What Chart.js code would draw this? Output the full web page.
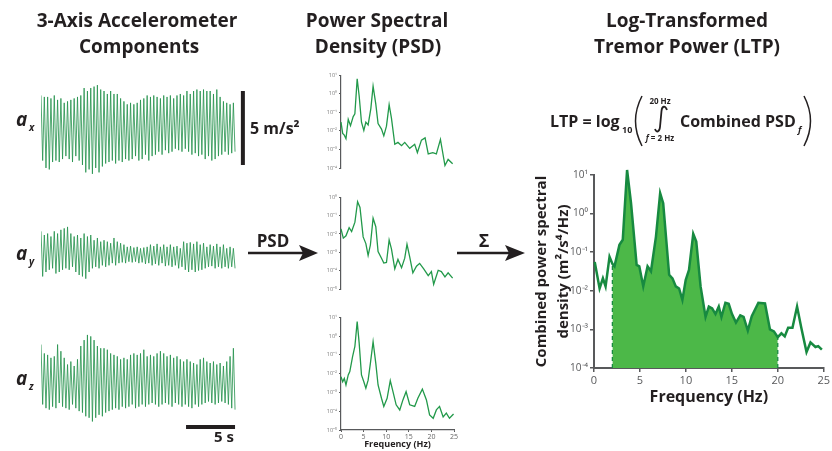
<!DOCTYPE html>
<html>
<head>
<meta charset="utf-8">
<script src="https://cdn.jsdelivr.net/npm/chart.js@4.4.0/dist/chart.umd.min.js"></script>
<style>
  body { margin: 0; width: 832px; height: 451px; overflow: hidden; background: #fff; font-family: "Open Sans", sans-serif; }
  canvas, svg { position: absolute; }
  svg { left: 0; top: 0; pointer-events: none; }
  text { font-family: "Open Sans", sans-serif; fill: #231f20; font-weight: bold; }
</style>
</head>
<body>
<canvas id="ax" width="210" height="100" style="left:41px;top:78px"></canvas>
<canvas id="ay" width="210" height="100" style="left:41px;top:205px"></canvas>
<canvas id="az" width="210" height="100" style="left:41px;top:333px"></canvas>
<canvas id="psdX" width="150" height="125" style="left:312px;top:70px"></canvas>
<canvas id="psdY" width="150" height="125" style="left:312px;top:192px"></canvas>
<canvas id="psdZ" width="150" height="138" style="left:312px;top:312px"></canvas>
<canvas id="combined" width="312" height="245" style="left:520px;top:165px"></canvas>

<svg width="832" height="451">
  <!-- titles -->
  <text x="137" y="27" font-size="19" text-anchor="middle">3-Axis Accelerometer</text>
  <text x="139" y="53" font-size="19" text-anchor="middle">Components</text>
  <text x="377" y="27" font-size="19" text-anchor="middle">Power Spectral</text>
  <text x="378" y="53" font-size="19" text-anchor="middle">Density (PSD)</text>
  <text x="687" y="27" font-size="19" text-anchor="middle">Log-Transformed</text>
  <text x="687" y="53" font-size="19" text-anchor="middle">Tremor Power (LTP)</text>

  <!-- axis names -->
  <text x="16" y="126" font-size="19" font-style="italic">a</text>
  <text x="29" y="131" font-size="10" font-style="italic">x</text>
  <text x="16" y="260" font-size="19" font-style="italic">a</text>
  <text x="29" y="265" font-size="10" font-style="italic">y</text>
  <text x="16" y="385" font-size="19" font-style="italic">a</text>
  <text x="29" y="390" font-size="10" font-style="italic">z</text>

  <!-- scale bar labels -->
  <text x="250" y="134" font-size="16">5 m/s²</text>
  <text x="224" y="442" font-size="15" text-anchor="middle">5 s</text>

  <!-- arrows -->
  <text x="273" y="247" font-size="17" text-anchor="middle">PSD</text>
  <line x1="248" y1="253" x2="304" y2="253" stroke="#231f20" stroke-width="2.5"/>
  <polygon points="318,253 299,245 303,253 299,261" fill="#231f20"/>
  <text x="484" y="247" font-size="18" text-anchor="middle">Σ</text>
  <line x1="457" y1="253" x2="510" y2="253" stroke="#231f20" stroke-width="2.5"/>
  <polygon points="525,253 505,245 509,253 505,261" fill="#231f20"/>

  <!-- formula -->
  <text x="550" y="127" font-size="16">LTP = log</text>
  <text x="622" y="133" font-size="9">10</text>
  <path d="M642,96 Q629,121 642,146" fill="none" stroke="#231f20" stroke-width="1.5"/>
  <text x="660" y="104" font-size="8" text-anchor="middle">20 Hz</text>
  <path d="M667,110 C665,105 662,106 661.5,111 L660,127 C659.5,132 656.5,133 655,129" fill="none" stroke="#231f20" stroke-width="1.8"/>
  <text x="660" y="141" font-size="8" text-anchor="middle"><tspan font-style="italic">f</tspan> = 2 Hz</text>
  <text x="680" y="127" font-size="16">Combined PSD</text>
  <text x="798" y="133" font-size="9" font-style="italic">f</text>
  <path d="M804,96 Q817,121 804,146" fill="none" stroke="#231f20" stroke-width="1.5"/>
</svg>

<script>
// accelerometer traces: peak and trough of each oscillation (m/s^2)
const axHi = [2.2, 2.1, 2.1, 2.0, 2.2, 1.9, 2.0, 1.7, 1.8, 1.9,
  2.0, 2.1, 2.2, 2.7, 2.5, 2.7, 2.8, 2.9, 2.6, 2.5,
  2.3, 2.5, 2.3, 2.3, 2.0, 1.8, 1.6, 1.7, 1.6, 1.7,
  1.9, 2.0, 2.2, 2.1, 2.2, 2.1, 2.0, 2.2, 2.1, 2.2,
  2.0, 2.2, 2.3, 2.2, 2.5, 2.3, 2.5, 2.6, 2.5, 2.6,
  2.5, 2.5, 2.3, 2.6, 2.1, 1.8, 1.7, 1.6, 1.7];
const axLo = [-2.2, -2.7, -2.8, -2.3, -2.2, -2.3, -2.1, -1.9, -2.1, -2.3,
  -1.9, -2.2, -2.5, -3.0, -2.8, -3.1, -2.7, -3.0, -2.6, -2.4,
  -2.3, -2.2, -2.4, -2.2, -2.3, -2.1, -2.2, -2.1, -1.9, -2.2,
  -2.1, -1.8, -2.2, -1.9, -1.8, -1.6, -1.8, -1.5, -1.7, -1.6,
  -1.4, -1.5, -1.6, -1.4, -1.6, -1.8, -1.7, -1.9, -1.8, -2.1,
  -1.9, -2.2, -2.1, -1.9, -1.8, -1.6, -1.8, -1.7, -1.6];
const ayHi = [1.6, 1.35, 1.45, 1.25, 1.6, 1.45, 1.7, 1.8, 1.9, 1.45,
  1.25, 1.35, 1.15, 1.45, 1.25, 1.35, 1.0, 1.15, 0.9, 1.0,
  0.9, 0.8, 1.15, 0.9, 0.8, 0.7, 0.55, 0.6, 0.5, 0.55,
  0.45, 0.5, 0.55, 0.7, 0.6, 0.75, 0.55, 0.7, 0.55, 0.7,
  0.55, 0.6, 0.45, 0.9, 0.8, 0.85, 0.75, 0.9, 0.7, 0.8,
  0.55, 0.7, 0.6, 0.75, 0.55, 0.7, 0.45, 0.55, 0.45];
const ayLo = [-1.45, -1.15, -1.0, -0.9, -1.25, -1.15, -1.0, -0.9, -1.0, -0.8,
  -1.15, -1.35, -1.45, -1.6, -1.15, -0.9, -0.8, -0.9, -0.7, -0.8,
  -0.7, -0.55, -0.7, -0.55, -0.5, -0.55, -0.45, -0.5, -0.45, -0.55,
  -0.5, -0.6, -0.55, -0.7, -0.6, -0.7, -0.55, -0.75, -0.7, -0.8,
  -0.7, -0.9, -0.8, -1.0, -1.15, -1.0, -1.15, -1.05, -1.0, -0.9,
  -0.8, -0.75, -0.9, -0.8, -0.9, -0.8, -0.9, -0.8, -0.9];
const azHi = [2.6, 2.0, 1.9, 1.7, 1.8, 2.6, 2.15, 1.7, 1.25, 1.45,
  1.15, 1.6, 2.5, 2.9, 3.25, 3.15, 2.9, 2.5, 2.35, 2.35,
  2.25, 2.0, 1.9, 1.8, 1.6, 1.7, 1.6, 1.9, 2.0, 1.9,
  2.0, 2.25, 1.8, 1.9, 1.8, 2.0, 2.15, 2.0, 1.8, 1.9,
  1.7, 1.8, 1.6, 1.45, 1.6, 1.45, 1.35, 1.25, 1.6, 1.7,
  1.45, 1.35, 1.45, 1.25, 1.35, 1.15, 1.45, 1.8, 2.35];
const azLo = [-1.45, -1.7, -1.8, -1.6, -1.7, -1.35, -1.6, -1.7, -1.8, -1.45,
  -1.7, -1.9, -2.0, -2.25, -2.35, -2.6, -2.35, -2.15, -2.25, -2.0,
  -1.9, -1.8, -1.7, -1.8, -1.6, -1.7, -1.6, -1.45, -1.7, -1.6,
  -1.45, -1.6, -1.45, -1.35, -1.45, -1.6, -1.45, -1.35, -1.45, -1.6,
  -1.35, -1.45, -1.6, -1.45, -1.6, -1.7, -1.45, -1.6, -1.45, -1.35,
  -1.25, -1.35, -1.45, -1.35, -1.25, -1.35, -1.45, -1.7, -1.8];
const traceSeconds = 19.8;
const ampBarT = 20.6;
const ampBar = [-2.5, 2.5];
const timeBar = [14.8, 19.8];
const timeBarY = -2.97;

// per-axis PSDs
const fX = [0, 0.37, 0.73, 1.1, 1.6, 2.1, 2.7, 3.07, 3.58, 4.02, 4.53, 5.05, 5.5, 6.0, 6.6, 7.1, 7.7, 8.2, 8.96, 9.47,
  10.06, 10.65, 11.16, 11.9, 12.6, 13.4, 14.1, 15.2, 16.3, 16.9, 17.8, 18.6, 19.3, 20.3, 21.1, 22.0, 23.0, 23.7, 24.7];
const psdX = [2.95e-2, 7.4e-3, 5.9e-3, 3.8e-3, 4.2e-2, 1.9e-2, 5.9e-2, 8.3e-2, 6.5, 0.76, 2.95e-2, 1.05e-2, 2.95e-2, 2.1e-2, 0.16, 2.6, 0.28, 2.5e-2, 1.26e-2, 5.4e-3,
  1.8e-2, 0.26, 4.9e-2, 1.9e-3, 2.4e-3, 1.6e-3, 2.4e-3, 1.15e-3, 1.9e-3, 6.8e-4, 3.2e-3, 4.2e-3, 5.8e-4, 6.8e-4, 5.8e-4, 3.5e-3, 1.35e-4, 2.9e-4, 1.7e-4];
const fY = [0, 0.51, 1.1, 1.8, 2.35, 3.08, 3.67, 4.2, 4.9, 5.5, 6.0, 6.5, 7.1, 7.7, 8.2, 8.96, 9.47, 10.06, 10.65, 11.16,
  11.9, 12.6, 13.4, 14.1, 14.6, 15.2, 15.9, 16.7, 17.4, 18.3, 19.3, 20.0, 20.5, 21.5, 22.2, 23.0, 23.7, 24.7];
const psdY = [1.9e-2, 5.9e-3, 7.9e-3, 2.2e-2, 1.35e-2, 4.4e-2, 0.58, 0.28, 6.9e-3, 3.0e-3, 6.8e-4, 2.5e-3, 7.2e-2, 2.5e-2, 1.1e-3, 4.8e-4, 2.6e-4, 2.8e-4, 4.7e-3, 1.55e-3,
  1.26e-4, 4.1e-4, 1.45e-4, 4.8e-4, 2.75e-3, 5.6e-4, 7.6e-5, 1.74e-4, 2.5e-4, 1.26e-4, 5.4e-5, 8.9e-5, 1.8e-5, 1.05e-4, 8.9e-5, 4.6e-5, 7.6e-5, 3.9e-5];
const fZ = [0, 0.37, 0.73, 1.1, 1.6, 1.95, 2.55, 3.07, 3.58, 4.02, 4.53, 5.05, 5.5, 6.0, 6.5, 7.1, 7.7, 8.2, 8.96, 9.47,
  10.2, 10.9, 11.5, 12.2, 13.0, 13.7, 14.4, 15.2, 16.3, 17.0, 18.0, 18.9, 19.6, 20.4, 21.1, 21.8, 22.6, 23.3, 24.0, 24.9];
const psdZ = [6.9e-3, 3.7e-3, 5.6e-3, 2.5e-3, 8.5e-3, 1.3e-2, 7.9e-2, 0.28, 5.9, 0.42, 8.5e-3, 3.7e-3, 1.66e-3, 4.5e-3, 3.5e-2, 0.5, 3.5e-2, 2.5e-3, 4.9e-4, 1.8e-4,
  4.9e-4, 4.3e-3, 1.1e-3, 2.2e-4, 1.17e-4, 4.0e-4, 1.1e-3, 2.2e-4, 1.8e-4, 4.9e-4, 1.5e-3, 4.0e-4, 6.3e-5, 4.2e-5, 1.17e-4, 1.8e-4, 5.0e-5, 7.9e-5, 4.2e-5, 7.1e-5];

// combined PSD
const fComb = [0.08, 0.61, 0.97, 1.26, 1.69, 2.0, 2.23, 2.77, 3.13, 3.6, 4.03, 4.64, 4.93, 5.36, 5.83, 6.2, 6.74, 7.2, 7.53, 8.18,
  8.54, 8.9, 9.26, 9.62, 9.98, 10.34, 10.8, 11.13, 11.6, 12.14, 12.5, 12.86, 13.22, 13.58, 13.87, 14.3, 14.66, 15.02, 15.45, 15.92,
  16.28, 16.74, 17.17, 17.89, 18.61, 19.15, 19.58, 20.0, 20.4, 20.76, 21.13, 21.6, 22.1, 22.56, 23.13, 23.56, 24.1, 24.4, 24.8];
const psdComb = [5.6e-2, 1.15e-2, 2.1e-2, 1.3e-2, 7.6e-2, 5.0e-2, 4.3e-2, 0.155, 0.21, 13.5, 1.86, 4.7e-2, 4.3e-2, 1.3e-2, 4.3e-2, 3.2e-2, 0.25, 3.4, 1.86, 2.6e-2,
  2.1e-2, 1.3e-2, 1.15e-2, 5.8e-3, 1.9e-2, 3.5e-2, 0.3, 0.19, 1.3e-2, 2.1e-3, 3.9e-3, 3.5e-3, 2.5e-3, 3.9e-3, 2.1e-3, 4.9e-3, 4.6e-3, 2.5e-3, 1.5e-3, 2.3e-3,
  2.1e-3, 9.3e-4, 2.2e-3, 4.9e-3, 4.7e-3, 1.0e-3, 8.9e-4, 6.3e-4, 7.9e-4, 6.6e-4, 1.1e-3, 1.1e-3, 3.9e-3, 1.1e-3, 2.6e-4, 4.6e-4, 3.5e-4, 3.7e-4, 3.0e-4];
const bandLow = 2;
const bandHigh = 20;

const freqTicks = [0, 5, 10, 15, 20, 25];
const combTicks = [1e-4, 1e-3, 1e-2, 1e-1, 1, 10];
const ticksX = [1e-4, 1e-3, 1e-2, 1e-1, 1, 10];
const ticksY = [1e-5, 1e-4, 1e-3, 1e-2, 1e-1, 1];
const ticksZ = [1e-5, 1e-4, 1e-3, 1e-2, 1e-1, 1, 10];

const traceColor = "rgba(35,145,75,0.8)";
const psdColor = "#22994a";
const combLine = "#178a40";
const combFill = "#4cb848";
const axisGrey = "#58595b";

Chart.defaults.font.family = "'Open Sans', sans-serif";

const sup = { "-": "⁻", "0": "⁰", "1": "¹", "2": "²", "3": "³", "4": "⁴", "5": "⁵" };
function pow10Label(v) {
  const e = Math.round(Math.log10(v));
  return "10" + String(e).split("").map((c) => sup[c]).join("");
}

function traceData(hi, lo) {
  const n = hi.length * 2;
  const pts = [];
  hi.forEach((h, i) => {
    pts.push({ x: (2 * i * traceSeconds) / (n - 1), y: h });
    pts.push({ x: ((2 * i + 1) * traceSeconds) / (n - 1), y: lo[i] });
  });
  return pts;
}

function barSet(points) {
  return { data: points, borderColor: "#231f20", borderWidth: 4, pointRadius: 0, borderCapStyle: "butt" };
}

function traceChart(id, hi, lo, extra) {
  return new Chart(document.getElementById(id), {
    type: "line",
    data: {
      datasets: [
        { data: traceData(hi, lo), borderColor: traceColor, borderWidth: 1, pointRadius: 0, tension: 0 },
      ].concat(extra || []),
    },
    options: {
      responsive: false,
      animation: false,
      events: [],
      layout: { padding: 0 },
      plugins: { legend: { display: false }, tooltip: { enabled: false } },
      scales: {
        x: { type: "linear", display: false, min: 0, max: 210 / 9.8 },
        y: { display: false, min: -3.38, max: 3.38 },
      },
    },
  });
}

traceChart("ax", axHi, axLo, [barSet(ampBar.map((v) => ({ x: ampBarT, y: v })))]);
traceChart("ay", ayHi, ayLo);
traceChart("az", azHi, azLo, [barSet(timeBar.map((t) => ({ x: t, y: timeBarY })))]);

function points(fs, vs) {
  return fs.map((f, i) => ({ x: f, y: vs[i] }));
}

function smallPsd(id, fs, vs, yTicks, pad, showX) {
  return new Chart(document.getElementById(id), {
    type: "line",
    data: {
      datasets: [{ data: points(fs, vs), borderColor: psdColor, borderWidth: 1.3, pointRadius: 0, tension: 0, clip: false }],
    },
    options: {
      responsive: false,
      animation: false,
      events: [],
      layout: { padding: pad },
      plugins: { legend: { display: false }, tooltip: { enabled: false } },
      scales: {
        x: {
          type: "linear",
          display: showX,
          min: 0,
          max: 25,
          afterBuildTicks: (s) => { s.ticks = freqTicks.map((v) => ({ value: v })); },
          afterFit: (s) => { s.height = 20; },
          ticks: { font: { size: 7 }, color: "#666", padding: 1, maxRotation: 0 },
          grid: { drawOnChartArea: false, tickLength: 2, color: axisGrey, lineWidth: 1 },
          border: { color: axisGrey, width: 1.2 },
          title: { display: true, text: "Frequency (Hz)", font: { size: 9, weight: "bold" }, color: "#231f20", padding: 0 },
        },
        y: {
          type: "logarithmic",
          min: yTicks[0],
          max: yTicks[yTicks.length - 1],
          afterBuildTicks: (s) => { s.ticks = yTicks.map((v) => ({ value: v })); },
          afterFit: (s) => { s.width = 29; },
          ticks: { font: { size: 5.5 }, color: "#777", padding: 2, callback: (v) => pow10Label(v) },
          grid: { drawOnChartArea: false, tickLength: 2, color: axisGrey, lineWidth: 1 },
          border: { color: axisGrey, width: 1.2 },
        },
      },
    },
  });
}

smallPsd("psdX", fX, psdX, ticksX, { top: 5, right: 8, bottom: 7, left: 0 }, false);
smallPsd("psdY", fY, psdY, ticksY, { top: 5, right: 8, bottom: 8, left: 0 }, false);
smallPsd("psdZ", fZ, psdZ, ticksZ, { top: 5, right: 8, bottom: 0, left: 0 }, true);

const combPts = points(fComb, psdComb);
const bandPts = combPts.filter((p) => p.x >= bandLow && p.x <= bandHigh);
const lowVal = psdComb[fComb.indexOf(bandLow)];
const highVal = psdComb[fComb.indexOf(bandHigh)];

new Chart(document.getElementById("combined"), {
  type: "line",
  data: {
    datasets: [
      { data: combPts, borderColor: combLine, borderWidth: 2.5, pointRadius: 0, tension: 0, clip: false, fill: false },
      { data: [{ x: bandLow, y: combTicks[0] }, { x: bandLow, y: lowVal }], borderColor: combLine, borderWidth: 1.3, borderDash: [4, 3], pointRadius: 0, fill: false },
      { data: [{ x: bandHigh, y: combTicks[0] }, { x: bandHigh, y: highVal }], borderColor: combLine, borderWidth: 1.3, borderDash: [4, 3], pointRadius: 0, fill: false },
      { data: bandPts, borderWidth: 0, pointRadius: 0, tension: 0, clip: false, fill: "start", backgroundColor: combFill },
    ],
  },
  options: {
    responsive: false,
    animation: false,
    events: [],
    layout: { padding: { top: 10, right: 6, bottom: 0, left: 0 } },
    plugins: { legend: { display: false }, tooltip: { enabled: false } },
    scales: {
      x: {
        type: "linear",
        min: 0,
        max: 25,
        afterBuildTicks: (s) => { s.ticks = freqTicks.map((v) => ({ value: v })); },
        afterFit: (s) => { s.height = 42; },
        ticks: { font: { size: 11 }, color: axisGrey, padding: 2, maxRotation: 0 },
        grid: { drawOnChartArea: false, tickLength: 4, color: axisGrey, lineWidth: 1.5 },
        border: { color: axisGrey, width: 2 },
        title: { display: true, text: "Frequency (Hz)", font: { size: 16, weight: "bold" }, color: "#231f20", padding: { top: 0, bottom: 3 } },
      },
      y: {
        type: "logarithmic",
        min: combTicks[0],
        max: combTicks[combTicks.length - 1],
        afterBuildTicks: (s) => { s.ticks = combTicks.map((v) => ({ value: v })); },
        afterFit: (s) => { s.width = 74; },
        ticks: { font: { size: 10 }, color: axisGrey, padding: 2, callback: (v) => pow10Label(v) },
        grid: { drawOnChartArea: false, tickLength: 4, color: axisGrey, lineWidth: 1.5 },
        border: { color: axisGrey, width: 2 },
        title: {
          display: true,
          text: ["Combined power spectral", "density (m²/s⁴/Hz)"],
          font: { size: 15, weight: "bold", lineHeight: 1.45 },
          color: "#231f20",
          padding: { top: 11, bottom: 0 },
        },
      },
    },
  },
});
</script>
</body>
</html>
